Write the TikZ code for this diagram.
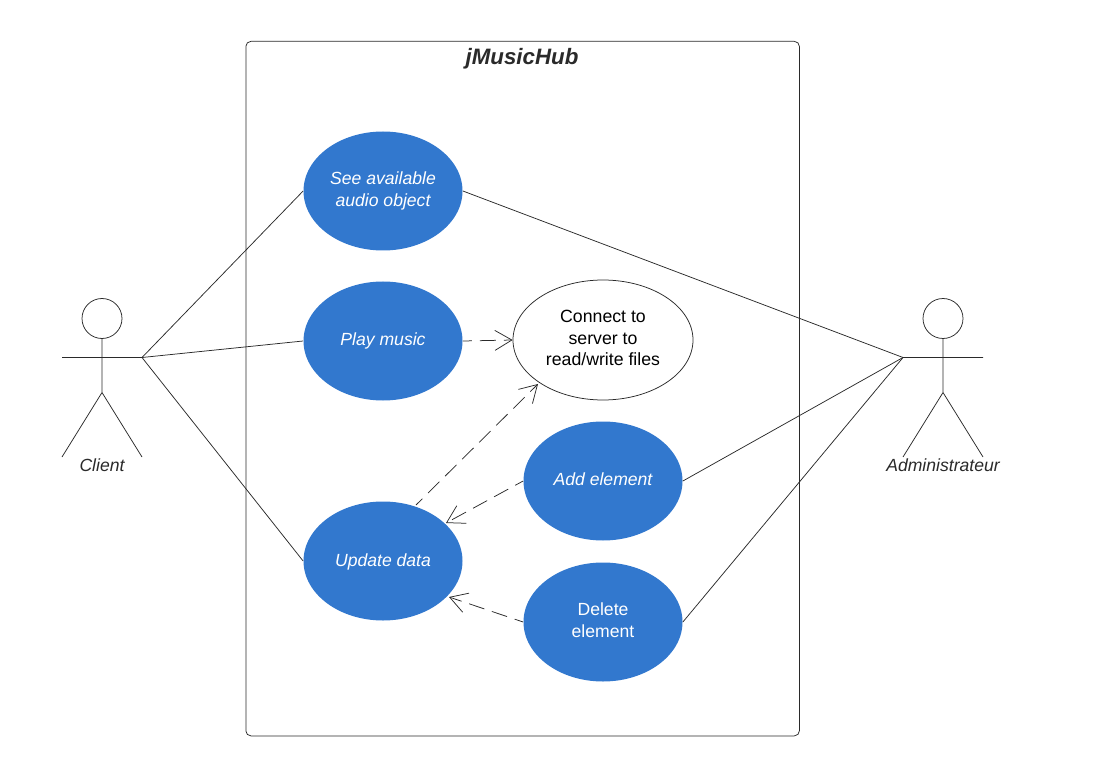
\documentclass[tikz,border=0pt]{standalone}
\usepackage{fontspec}
\setmainfont{Liberation Sans}
\usetikzlibrary{arrows.meta,shapes.geometric}
\definecolor{ucblue}{HTML}{3278CE}
\definecolor{ucink}{HTML}{2A2A2A}

\begin{document}
\begin{tikzpicture}[x=1pt,y=-1pt,line width=0.75pt]
    \tikzstyle{usecase}=[ellipse,fill=ucblue,text=white,minimum width=159,minimum height=119,inner sep=0pt,align=center,font=\fontsize{17.6}{21.3}\selectfont\itshape];
    \tikzstyle{usewhite}=[usecase,draw=ucink,fill=white,text=black,minimum width=180,minimum height=120,font=\fontsize{17.7}{21.3}\selectfont];
    \tikzstyle{dep}=[draw=ucink,dash pattern=on 16pt off 8pt,dash phase=7pt,-{Straight Barb[length=17pt,width=20pt,line width=0.75pt]}];
    \tikzstyle{link}=[draw=ucink];
    \tikzstyle{actorlabel}=[font=\fontsize{17.6}{21.3}\selectfont\itshape,text=ucink];
    \useasboundingbox (0,0) rectangle (1099,783);

    \node (hub) [draw=ucink,rounded corners=5pt,minimum width=553.5,minimum height=694.5,anchor=north west] at (245.5,41) {};
    \node (hubtitle) [font=\fontsize{22.3}{26}\selectfont\bfseries\itshape,text=ucink] at (522,59) {jMusicHub};

    \node (see) [usecase] at (383,191) {See available\\audio object};
    \node (play) [usecase] at (383,341) {Play music};
    \node (update) [usecase] at (383,561) {Update data\\[-19.3pt]};
    \node (add) [usecase] at (603,481) {Add element\\[-17.3pt]};
    \node (del) [usecase,font=\fontsize{17.6}{21.3}\selectfont] at (603,622) {Delete\\element\\[-17.3pt]};
    \node (conn) [usewhite] at (603,340) {Connect to\\server to\\read/write files\\[-17.3pt]};

    % actors
    \node (clienthead) [draw=ucink,circle,minimum size=40,inner sep=0pt] at (102,318.5) {};
    \coordinate (clientarml) at (62,357.5);
    \coordinate (clientarmr) at (142,357.5);
    \coordinate (clienthip) at (102,392.5);
    \coordinate (clientfootl) at (62,457);
    \coordinate (clientfootr) at (142,457);
    \node (clientname) [actorlabel] at (102,465) {Client};
    \draw[link] (clienthead.south) -- (clienthip) (clientarml) -- (clientarmr)
    (clientfootl) -- (clienthip) -- (clientfootr);

    \node (adminhead) [draw=ucink,circle,minimum size=40,inner sep=0pt] at (943,318.5) {};
    \coordinate (adminarml) at (903,357.5);
    \coordinate (adminarmr) at (983,357.5);
    \coordinate (adminhip) at (943,392.5);
    \coordinate (adminfootl) at (903,457);
    \coordinate (adminfootr) at (983,457);
    \node (adminname) [actorlabel] at (943,465) {Administrateur};
    \draw[link] (adminhead.south) -- (adminhip) (adminarml) -- (adminarmr)
    (adminfootl) -- (adminhip) -- (adminfootr);

    \path[link] (clientarmr) edge (see.west) edge (play.west) edge (update.west)
    (adminarml) edge (see.east) edge (add.east) edge (del.east);

    \draw[dep] (play.east) -- (conn.west);
    \draw[dep] (update) +(33,-56) -- (538,384);
    \draw[dep] (add.west) -- (446,523);
    \draw[dep] (del.west) -- (449,597);
\end{tikzpicture}
\end{document}
